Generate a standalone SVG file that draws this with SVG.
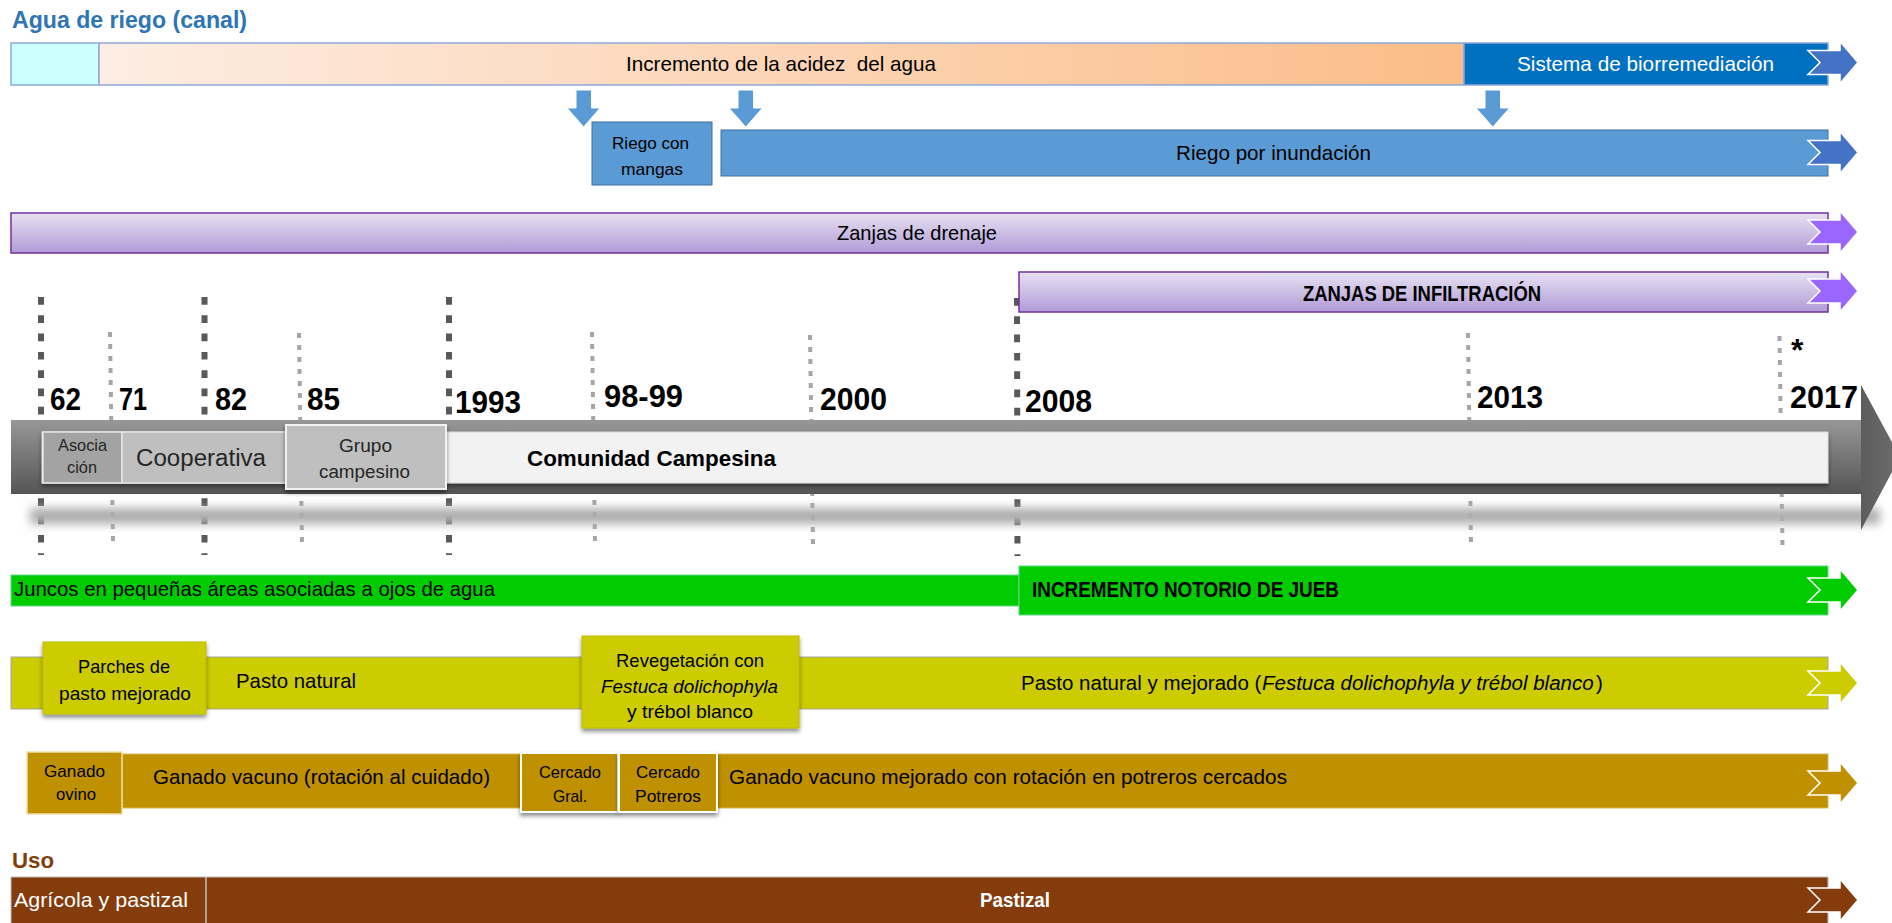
<svg xmlns="http://www.w3.org/2000/svg" width="1892" height="923" viewBox="0 0 1892 923">
<style>
text { font-family: "Liberation Sans", Arial, sans-serif; fill: #000; }
.t21 { font-size: 21px; }
.t19 { font-size: 19px; }
.t17 { font-size: 17px; }
.b { font-weight: bold; }
.yr { font-size: 32px; font-weight: bold; }
.w { fill: #fff; }
.it { font-style: italic; }
.purple { fill: url(#gPurple); stroke: #7030A0; stroke-width: 1.5; }
.ablue { fill: #4472C4; }
.apurple { fill: #9966FF; }
.agreen { fill: #00CC00; }
.ayellow { fill: #CCCC00; }
.agold { fill: #BF9000; }
.abrown { fill: #843C0C; }
.endarr { stroke: #fff; stroke-width: 1.5; stroke-linejoin: miter; }
.down { fill: #5B9BD5; stroke: #fff; stroke-width: 1; }
.dk { stroke: #595959; stroke-width: 6; stroke-dasharray: 7.7 10.6; fill: none; }
.lt { stroke: #A6A6A6; stroke-width: 4; stroke-dasharray: 5 7; fill: none; }
</style>
<defs>
  <linearGradient id="gPeach" gradientUnits="userSpaceOnUse" x1="99" y1="0" x2="1464" y2="0">
    <stop offset="0" stop-color="#FDEDE3"/>
    <stop offset="1" stop-color="#FBBD88"/>
  </linearGradient>
  <linearGradient id="gPurple" x1="0" y1="0" x2="0" y2="1">
    <stop offset="0" stop-color="#E8E2F2"/>
    <stop offset="1" stop-color="#B09AD6"/>
  </linearGradient>
  <linearGradient id="gBand" x1="0" y1="0" x2="0" y2="1">
    <stop offset="0" stop-color="#979797"/>
    <stop offset="0.5" stop-color="#767676"/>
    <stop offset="1" stop-color="#555555"/>
  </linearGradient>
  <linearGradient id="gHead" x1="0" y1="0" x2="1" y2="0">
    <stop offset="0" stop-color="#5C5C5C"/>
    <stop offset="1" stop-color="#6E6E6E"/>
  </linearGradient>
  <filter id="sh" x="-10%" y="-20%" width="120%" height="170%">
    <feDropShadow dx="0" dy="3" stdDeviation="2" flood-color="#000" flood-opacity="0.45"/>
  </filter>
  <filter id="blur" x="-5%" y="-150%" width="110%" height="400%">
    <feGaussianBlur stdDeviation="5"/>
  </filter>
  <path id="endArrow" d="M-32,-12 H0 V-21 L18,0 L0,21 V12 H-32 L-20,0 Z"/>
</defs>

<rect x="0" y="0" width="1892" height="923" fill="#fff"/>

<g id="title-agua">
  <text class="b" x="12" y="28" font-size="23" style="fill:#2E75B6" textLength="235" lengthAdjust="spacingAndGlyphs">Agua de riego (canal)</text>
</g>

<g id="row-acidez">
  <rect x="11" y="43" width="88" height="42" fill="#CCFFFF" stroke="#8EA9DB" stroke-width="1.5"/>
  <rect x="99" y="43" width="1365" height="42" fill="url(#gPeach)" stroke="#8EA9DB" stroke-width="1.5"/>
  <rect x="1464" y="43" width="364" height="42" fill="#0070C0" stroke="#8EA9DB" stroke-width="1.5"/>
  <use href="#endArrow" class="ablue endarr" transform="translate(1840,62.5)"/>
  <text class="t21" x="626" y="71" textLength="310" lengthAdjust="spacingAndGlyphs" xml:space="preserve">Incremento de la acidez  del agua</text>
  <text class="t21 w" x="1517" y="71" textLength="257" lengthAdjust="spacingAndGlyphs">Sistema de biorremediación</text>
</g>

<g id="connectors">
  <path class="down" d="M576,90 H591.5 V108 H600 L583.7,127 L567,108 H576 Z"/>
  <path class="down" d="M738,90 H753.5 V108 H762.5 L745.8,127 L729,108 H738 Z"/>
  <path class="down" d="M1485,90 H1500.5 V108 H1509.5 L1492.8,127 L1476,108 H1485 Z"/>
</g>

<g id="riego-mangas">
  <rect x="592" y="122" width="120" height="63" fill="#5B9BD5" stroke="#41719C" stroke-width="1"/>
  <text class="t17" x="612" y="149" textLength="77" lengthAdjust="spacingAndGlyphs">Riego con</text>
  <text class="t17" x="621" y="175" textLength="62" lengthAdjust="spacingAndGlyphs">mangas</text>
</g>

<g id="riego-inundacion">
  <rect x="721" y="130" width="1107" height="46" fill="#5B9BD5" stroke="#41719C" stroke-width="1"/>
  <use href="#endArrow" class="ablue endarr" transform="translate(1840,152.5)"/>
  <text class="t21" x="1176" y="160" textLength="195" lengthAdjust="spacingAndGlyphs">Riego por inundación</text>
</g>

<g id="zanjas-drenaje">
  <rect class="purple" x="11" y="213" width="1817" height="40"/>
  <use href="#endArrow" class="apurple endarr" transform="translate(1840,232)"/>
  <text class="t21" x="837" y="240" textLength="160" lengthAdjust="spacingAndGlyphs">Zanjas de drenaje</text>
</g>

<g id="year-lines">
  <line class="dk" x1="41" y1="297" x2="41" y2="555"/>
  <line class="dk" x1="204.5" y1="297" x2="204.5" y2="555"/>
  <line class="dk" x1="449" y1="297" x2="449" y2="555"/>
  <line class="dk" x1="1017" y1="298" x2="1017.5" y2="556"/>
  <line class="lt" x1="110" y1="332" x2="113" y2="545"/>
  <line class="lt" x1="299" y1="333" x2="302" y2="545"/>
  <line class="lt" x1="592" y1="332" x2="595" y2="545"/>
  <line class="lt" x1="810" y1="335" x2="813" y2="545"/>
  <line class="lt" x1="1468" y1="333" x2="1471" y2="545"/>
  <line class="lt" x1="1779.5" y1="336" x2="1782.5" y2="546"/>
</g>

<g id="zanjas-infiltracion">
  <rect class="purple" x="1019" y="272" width="809" height="40"/>
  <use href="#endArrow" class="apurple endarr" transform="translate(1840,291)"/>
  <text class="b" x="1303" y="301" font-size="22" textLength="238" lengthAdjust="spacingAndGlyphs">ZANJAS DE INFILTRACIÓN</text>
</g>

<g id="years">
  <text class="yr" x="50" y="410" textLength="31" lengthAdjust="spacingAndGlyphs">62</text>
  <text class="yr" x="119" y="410" textLength="28" lengthAdjust="spacingAndGlyphs">71</text>
  <text class="yr" x="215" y="410" textLength="32" lengthAdjust="spacingAndGlyphs">82</text>
  <text class="yr" x="307" y="410" textLength="33" lengthAdjust="spacingAndGlyphs">85</text>
  <text class="yr" x="455" y="413" textLength="66" lengthAdjust="spacingAndGlyphs">1993</text>
  <text class="yr" x="604" y="407" textLength="79" lengthAdjust="spacingAndGlyphs">98-99</text>
  <text class="yr" x="820" y="410" textLength="67" lengthAdjust="spacingAndGlyphs">2000</text>
  <text class="yr" x="1025" y="412" textLength="67" lengthAdjust="spacingAndGlyphs">2008</text>
  <text class="yr" x="1477" y="408" textLength="66" lengthAdjust="spacingAndGlyphs">2013</text>
  <text class="yr" x="1790" y="408" textLength="68" lengthAdjust="spacingAndGlyphs">2017</text>
  <text class="yr" x="1791" y="361">*</text>
</g>

<g id="timeline">
  <rect x="30" y="508" width="1850" height="16" fill="#ADADAD" filter="url(#blur)"/>
  <rect x="11" y="420" width="1851" height="74" fill="url(#gBand)"/>
  <polygon points="1861,385 1900,457 1861,530" fill="url(#gHead)"/>
  <rect x="42" y="432" width="1786" height="51" fill="#F2F2F2" stroke="#D9D9D9" stroke-width="1" filter="url(#sh)"/>
</g>

<g id="asociacion">
  <rect x="43" y="432" width="79" height="51" fill="#A3A3A3" stroke="#E6E6E6" stroke-width="1.5"/>
  <text class="t17" x="58" y="451" style="fill:#262626" textLength="49" lengthAdjust="spacingAndGlyphs">Asocia</text>
  <text class="t17" x="67" y="473" style="fill:#262626" textLength="30" lengthAdjust="spacingAndGlyphs">ción</text>
</g>

<g id="cooperativa">
  <rect x="122" y="432" width="164" height="51" fill="#BFBFBF" stroke="#E6E6E6" stroke-width="1.5"/>
  <text x="136" y="466" font-size="23" style="fill:#262626" textLength="130" lengthAdjust="spacingAndGlyphs">Cooperativa</text>
</g>

<g id="grupo-campesino">
  <rect x="286" y="425" width="160" height="64" fill="#BFBFBF" stroke="#F2F2F2" stroke-width="2" filter="url(#sh)"/>
  <text x="339" y="452" font-size="18" style="fill:#262626" textLength="53" lengthAdjust="spacingAndGlyphs">Grupo</text>
  <text x="319" y="478" font-size="18" style="fill:#262626" textLength="91" lengthAdjust="spacingAndGlyphs">campesino</text>
</g>

<g id="comunidad-campesina">
  <text class="b" x="527" y="466" font-size="22" textLength="249" lengthAdjust="spacingAndGlyphs">Comunidad Campesina</text>
</g>

<g id="juncos">
  <rect x="11" y="575" width="1008" height="31" fill="#00CC00" stroke="#5ED98A" stroke-width="1"/>
  <text class="t21" x="14" y="596" textLength="481" lengthAdjust="spacingAndGlyphs">Juncos en pequeñas áreas asociadas a ojos de agua</text>
</g>

<g id="incremento-jueb">
  <rect x="1019" y="566" width="809" height="49" fill="#00CC00" stroke="#5ED98A" stroke-width="1"/>
  <use href="#endArrow" class="agreen endarr" transform="translate(1840,590)"/>
  <text class="b" x="1032" y="597" font-size="22" textLength="307" lengthAdjust="spacingAndGlyphs">INCREMENTO NOTORIO DE JUEB</text>
</g>

<g id="pasto">
  <rect x="11" y="657" width="1817" height="52" fill="#CCCC00" stroke="#A6A6A6" stroke-width="1"/>
  <use href="#endArrow" class="ayellow endarr" transform="translate(1840,683)"/>
  <text class="t21" x="236" y="688" textLength="120" lengthAdjust="spacingAndGlyphs">Pasto natural</text>
  <text x="1021" y="690" font-size="20.5">Pasto natural y mejorado (</text>
  <text class="it" x="1262" y="690" font-size="20.5">Festuca dolichophyla y trébol blanco</text>
  <text x="1596" y="690" font-size="20.5">)</text>
</g>

<g id="parches">
  <rect x="43" y="642" width="163" height="72" fill="#CCCC00" stroke="#BDBD00" stroke-width="1" filter="url(#sh)"/>
  <text class="t19" x="78" y="673" textLength="92" lengthAdjust="spacingAndGlyphs">Parches de</text>
  <text class="t19" x="59" y="700" textLength="132" lengthAdjust="spacingAndGlyphs">pasto mejorado</text>
</g>

<g id="revegetacion">
  <rect x="582" y="636" width="217" height="92" fill="#CCCC00" stroke="#BDBD00" stroke-width="1" filter="url(#sh)"/>
  <text class="t19" x="616" y="667" textLength="148" lengthAdjust="spacingAndGlyphs">Revegetación con</text>
  <text class="t19 it" x="601" y="693" textLength="177" lengthAdjust="spacingAndGlyphs">Festuca dolichophyla</text>
  <text class="t19" x="627" y="718" textLength="126" lengthAdjust="spacingAndGlyphs">y trébol blanco</text>
</g>

<g id="ganado">
  <rect x="122" y="754" width="1706" height="54" fill="#BF9000" stroke="#D9B75A" stroke-width="1"/>
  <use href="#endArrow" class="agold endarr" transform="translate(1840,783)"/>
  <text class="t21" x="153" y="784" textLength="337" lengthAdjust="spacingAndGlyphs">Ganado vacuno (rotación al cuidado)</text>
  <text class="t21" x="729" y="784" textLength="558" lengthAdjust="spacingAndGlyphs">Ganado vacuno mejorado con rotación en potreros cercados</text>
</g>

<g id="ganado-ovino">
  <rect x="27" y="752" width="95" height="62" fill="#BF9000" stroke="#F2DFA8" stroke-width="1.5"/>
  <text class="t17" x="44" y="777" textLength="61" lengthAdjust="spacingAndGlyphs">Ganado</text>
  <text class="t17" x="56" y="800" textLength="40" lengthAdjust="spacingAndGlyphs">ovino</text>
</g>

<g id="cercado-gral">
  <rect x="521" y="753" width="97" height="59" fill="#BF9000" stroke="#FFFFFF" stroke-width="2" filter="url(#sh)"/>
  <text class="t17" x="539" y="778" textLength="62" lengthAdjust="spacingAndGlyphs">Cercado</text>
  <text class="t17" x="553" y="802" textLength="34" lengthAdjust="spacingAndGlyphs">Gral.</text>
</g>

<g id="cercado-potreros">
  <rect x="619" y="753" width="98" height="59" fill="#BF9000" stroke="#FFFFFF" stroke-width="2" filter="url(#sh)"/>
  <text class="t17" x="636" y="778" textLength="64" lengthAdjust="spacingAndGlyphs">Cercado</text>
  <text class="t17" x="635" y="802" textLength="66" lengthAdjust="spacingAndGlyphs">Potreros</text>
</g>

<g id="title-uso">
  <text class="b" x="12" y="868" font-size="22" style="fill:#843C0C" textLength="42" lengthAdjust="spacingAndGlyphs">Uso</text>
</g>

<g id="uso">
  <rect x="11" y="877" width="1817" height="50" fill="#843C0C" stroke="#BFBFBF" stroke-width="1"/>
  <line x1="206" y1="877" x2="206" y2="923" stroke="#BFBFBF" stroke-width="1.5"/>
  <use href="#endArrow" class="abrown endarr" transform="translate(1840,900)"/>
  <text class="t21 w" x="14" y="907" textLength="174" lengthAdjust="spacingAndGlyphs">Agrícola y pastizal</text>
  <text class="b w" x="980" y="907" font-size="20" textLength="70" lengthAdjust="spacingAndGlyphs">Pastizal</text>
</g>
</svg>
